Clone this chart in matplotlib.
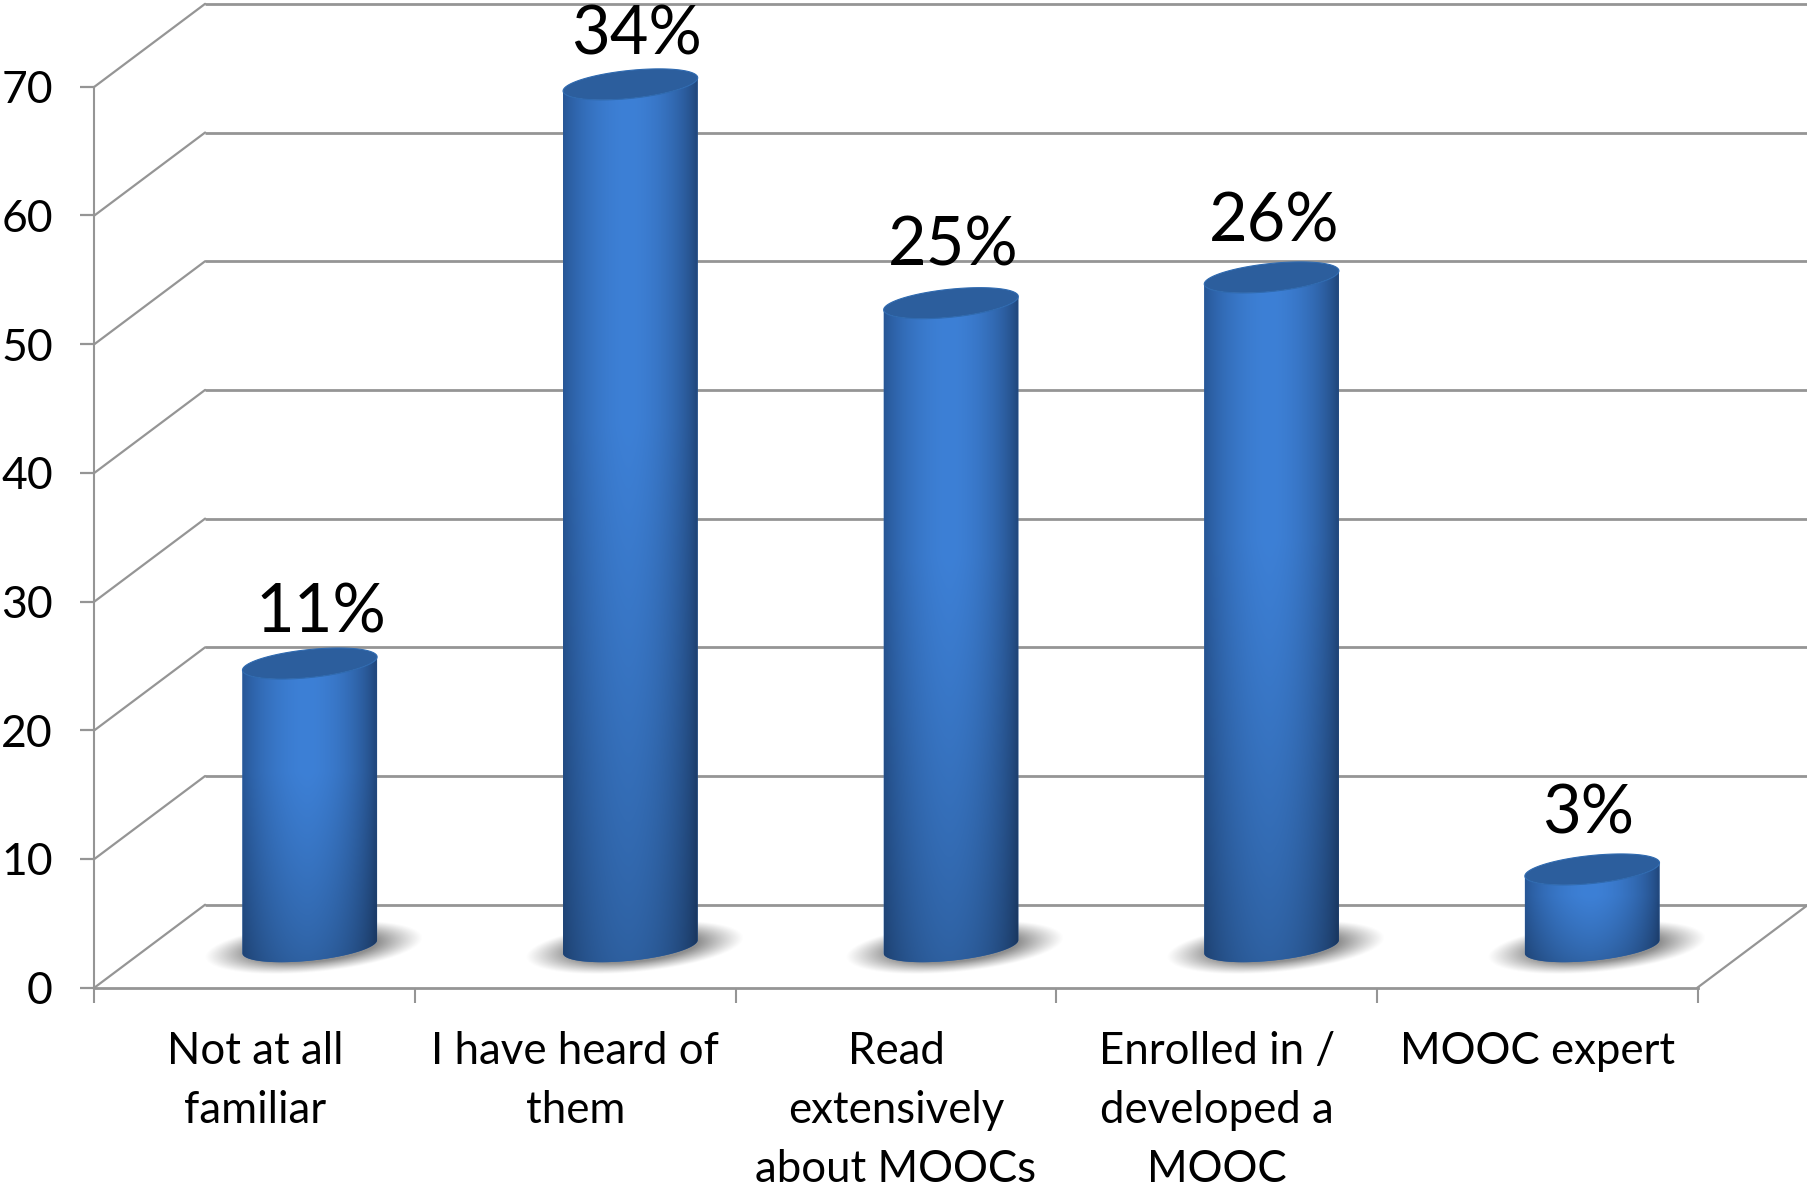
import numpy as np
import matplotlib
matplotlib.use("Agg")
import matplotlib.pyplot as plt
from matplotlib.patches import Polygon
from matplotlib.colors import to_rgb

categories = ["Not at all\nfamiliar", "I have heard of\nthem", "Read\nextensively\nabout MOOCs",
              "Enrolled in /\ndeveloped a\nMOOC", "MOOC expert"]
counts = [22, 67, 50, 52, 6]
percent_labels = ["11%", "34%", "25%", "26%", "3%"]
y_ticks = [0, 10, 20, 30, 40, 50, 60, 70]

W, H = 1807, 1190
X0, UX = 94.5, 320.6      # px position of x=0, px per category
Y0, UY = 987.6, 12.87     # px position of y=0, px per unit
DX, DY = 0.345, 6.44      # depth offset of the 3D back wall
GREY = "#959595"
plt.rcParams["font.family"] = ["Lato", "DejaVu Sans"]

fig = plt.figure(figsize=(W / 100, H / 100), dpi=100)
ax = fig.add_axes([0, 0, 1, 1])
xlim = (-X0 / UX, (W - X0) / UX)
ylim = (-(H - Y0) / UY, Y0 / UY)

# axes
for s in ("top", "right"):
    ax.spines[s].set_visible(False)
ax.spines["left"].set_position(("data", 0))
ax.spines["bottom"].set_position(("data", 0))
ax.spines["left"].set_bounds(0, 70)
ax.spines["bottom"].set_bounds(0, len(counts))
ax.spines["left"].set_color(GREY)
ax.spines["bottom"].set_color(GREY)
ax.spines["left"].set_linewidth(1.5)
ax.spines["bottom"].set_linewidth(2.0)
ax.set_yticks(y_ticks)
ax.set_yticklabels([str(t) for t in y_ticks], fontsize=32, color="black")
ax.tick_params(axis="y", length=10, width=1.6, color=GREY, pad=20)
ax.set_xticks(np.arange(len(counts) + 1))
ax.set_xticklabels([""] * (len(counts) + 1))
ax.tick_params(axis="x", which="major", length=11, width=1.5, color=GREY)
ax.set_xticks(np.arange(len(counts)) + 0.5, minor=True)
ax.set_xticklabels(categories, minor=True, fontsize=31.5, color="black", linespacing=1.55)
ax.tick_params(axis="x", which="minor", length=0, pad=31)

# 3D wall and floor lines
for t in y_ticks:
    ax.plot([0, DX], [t, t + DY], color=GREY, lw=1.6, zorder=1, solid_capstyle="round")
ax.hlines([t + DY for t in y_ticks], DX, len(counts) + DX, color=GREY, lw=2.0, zorder=1)
ax.plot([len(counts), len(counts) + DX], [0, DY], color=GREY, lw=1.6, zorder=1)

# cylinders
A = 0.21       # half width in category units
B = 1.09       # ellipse half height
S = 0.515      # ellipse shear
dark_l, bright, dark_r = map(np.array, map(to_rgb, ("#25528f", "#3d80d6", "#22497f")))
t_lo = np.linspace(np.pi, 2 * np.pi, 80)
t_full = np.linspace(0, 2 * np.pi, 160)


def ell(xc, yc, t):
    return xc + A * np.cos(t), yc + S * np.cos(t) + B * np.sin(t)


for i, v in enumerate(counts):
    xc = i + 0.5 + DX / 2 - 0.001
    yb = 3.18
    yt = v + yb

    # blurred floor shadow
    sx = np.linspace(xc - 0.42, xc + 0.42, 220)
    sy = np.linspace(yb - 3.4, yb + 3.4, 120)
    gx, gy = np.meshgrid(sx, sy)
    u = (gx - xc - 0.012) / 0.34
    w = (gy - yb + 0.1 - 0.75 * u) / 1.95
    d = np.sqrt(u ** 2 + w ** 2)
    alpha = np.clip((1 - d) / 0.42, 0, 1) ** 1.1 * 0.8
    rgba = np.zeros(gx.shape + (4,))
    rgba[..., :3] = 0.45
    rgba[..., 3] = alpha
    ax.imshow(rgba, extent=(sx[0], sx[-1], sy[0], sy[-1]), origin="lower", aspect="auto",
              interpolation="bilinear", zorder=2)

    # side of the cylinder
    xl, yl = ell(xc, yb, t_lo)
    xu, yu = ell(xc, yt, t_lo[::-1])
    verts = np.column_stack([np.r_[xl, xu], np.r_[yl, yu]])
    side = Polygon(verts, closed=True, facecolor="#2f66ad", edgecolor="none", zorder=3)
    ax.add_patch(side)

    gxs = np.linspace(xc - A, xc + A, 200)
    gys = np.linspace(yb - B - S, yt + B + S, 300)
    mx, my = np.meshgrid(gxs, gys)
    un = (mx - xc) / A
    vn = (my - gys[0]) / (gys[-1] - gys[0])
    shade = np.clip(1 - np.abs(un + 0.03) ** 1.8, 0, 1) ** 0.8
    base = np.where((un < 0)[..., None], dark_l, dark_r)
    img = base + (bright - base) * shade[..., None]
    # gradual darkening toward the foot of each cylinder
    fade = 0.74 + 0.26 * np.clip(vn / 0.6, 0, 1) ** 0.75
    img = np.clip(img * fade[..., None], 0, 1)
    im = ax.imshow(img, extent=(gxs[0], gxs[-1], gys[0], gys[-1]), origin="lower", aspect="auto",
                   interpolation="bilinear", zorder=3.1)
    im.set_clip_path(side)

    # top ellipse
    xe, ye = ell(xc, yt, t_full)
    ax.add_patch(Polygon(np.column_stack([xe, ye]), closed=True, facecolor="#2c5e9d",
                         edgecolor="#2f6ab0", lw=0.8, zorder=4))

# percent labels
nudge_x = [0.033, 0.018, 0.006, 0.006, -0.013]
nudge_y = [-0.1, -0.2, 0.4, 0.3, 0.3]
for i, (v, lab) in enumerate(zip(counts, percent_labels)):
    ax.text(i + 0.5 + DX / 2 + nudge_x[i], v + 3.18 + 2.5 + nudge_y[i], lab, ha="center",
            va="baseline", fontsize=48, color="black", zorder=5)

ax.set_xlim(*xlim)
ax.set_ylim(*ylim)
fig.savefig("out.png", dpi=100, facecolor="white")
